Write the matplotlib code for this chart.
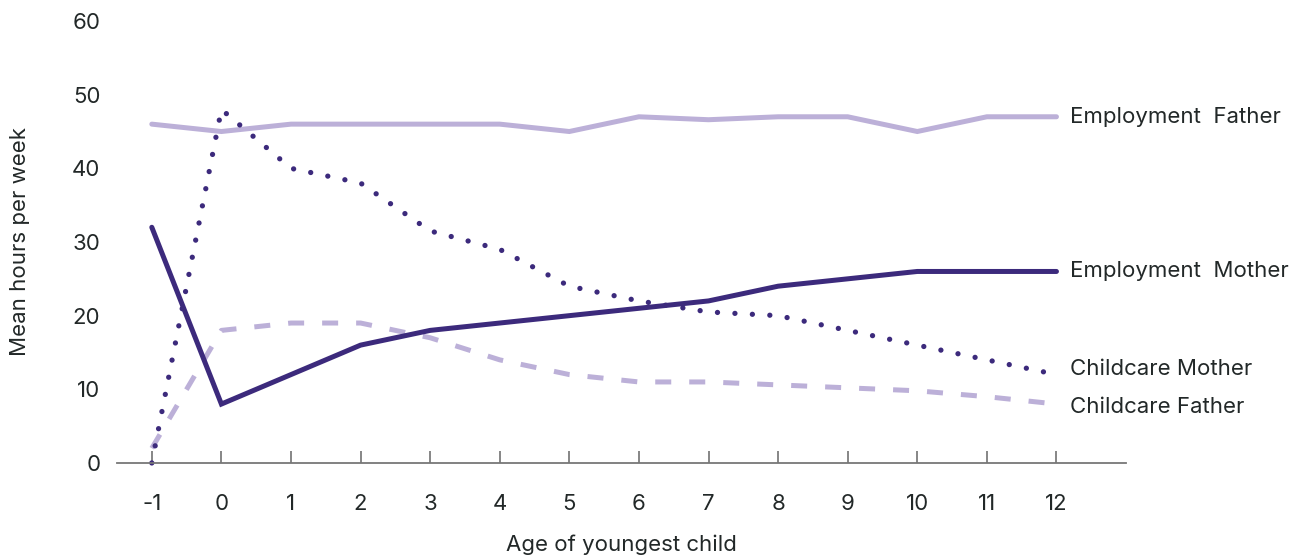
import numpy as np
import matplotlib
matplotlib.use("Agg")
from matplotlib import pyplot as plt

plt.rcParams['font.family'] = ['Inter', 'DejaVu Sans']
plt.rcParams['axes.unicode_minus'] = False

ages = [-1, 0, 1, 2, 3, 4, 5, 6, 7, 8, 9, 10, 11, 12]
emp_father = [46, 45, 46, 46, 46, 46, 45, 47, 46.6, 47, 47, 45, 47, 47]
emp_mother = [32, 8, 12, 16, 18, 19, 20, 21, 22, 24, 25, 26, 26, 26]
care_mother = [0, 48, 40, 38, 31.5, 29, 24, 22, 20.5, 20, 18, 16, 14, 12]
care_father = [2, 18, 19, 19, 17, 14, 12, 11, 11, 10.6, 10.2, 9.8, 9, 8]

dark = '#3c2a7c'
light = '#bcb0d8'
txt = '#222828'

fig = plt.figure(figsize=(13.03, 5.56), dpi=100)
ax = fig.add_axes([0.0898, 0.1673, 0.7744, 0.7949])

ax.plot(ages, emp_father, color=light, lw=3.6, solid_capstyle='round',
        solid_joinstyle='miter', clip_on=False)
ax.plot(ages, care_father, color=light, lw=3.6, dashes=(3.2, 3.6),
        dash_capstyle='butt', clip_on=False)
ax.plot(ages, care_mother, color=dark, lw=3.8, dashes=(0.01, 3.3),
        dash_capstyle='round', clip_on=False)
ax.plot(ages, emp_mother, color=dark, lw=3.6, solid_capstyle='round',
        solid_joinstyle='miter', clip_on=False)

# end labels
labels = ['Employment  Father', 'Employment  Mother', 'Childcare Mother', 'Childcare Father']
ends = [emp_father[-1], emp_mother[-1], care_mother[-1] + 0.8, care_father[-1] - 0.4]
for lab, yv in zip(labels, ends):
    ax.annotate(lab, xy=(ages[-1], yv), xytext=(10, 0), textcoords='offset points',
                va='center', ha='left', fontsize=16, color=txt, annotation_clip=False)

ax.set_xlim(-1.5, 13)
ax.set_ylim(0, 60)
ax.set_xticks(ages)
ax.set_yticks(range(0, 61, 10))

for s in ['top', 'right', 'left']:
    ax.spines[s].set_visible(False)
ax.spines['bottom'].set_color('#777777')
ax.spines['bottom'].set_linewidth(1.3)

ax.tick_params(axis='x', direction='in', length=8.5, width=1.1, color='#666666',
               labelsize=16, labelcolor=txt, pad=22)
ax.tick_params(axis='y', length=0, labelsize=16, labelcolor=txt, pad=12)

ax.set_xlabel('Age of youngest child', fontsize=16, color=txt, labelpad=15)
ax.set_ylabel('Mean hours per week', fontsize=16, color=txt, labelpad=30)

plt.savefig('out.png', dpi=100)
